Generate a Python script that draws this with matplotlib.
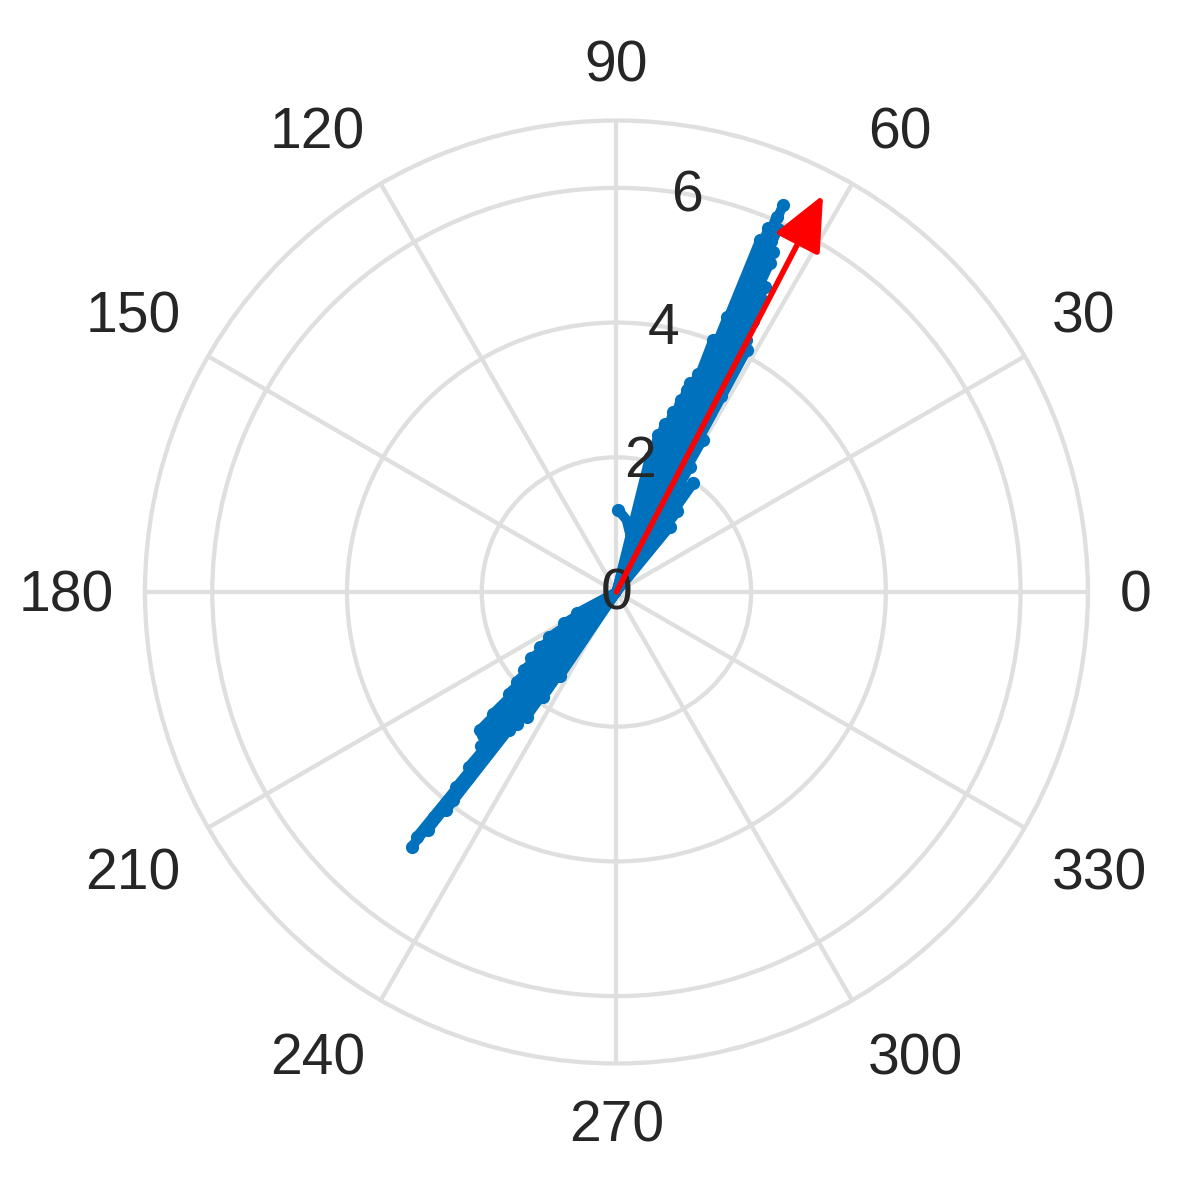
import matplotlib
matplotlib.use("Agg")
import matplotlib.pyplot as plt
import numpy as np

plt.rcParams["font.family"] = ["Liberation Sans", "DejaVu Sans"]

# sweeps of the trace through the origin: tip angle (deg) and magnitude
UPPER_ANGLE = [66.7, 66.9, 67.3, 67.8, 66.2, 65.0, 66.4, 67.5, 64.1, 65.6,
               66.8, 67.2, 63.2, 64.6, 65.9, 61.7, 62.8, 64.3, 66.3, 67.2,
               68.5, 69.5, 70.6, 70.8, 65.2, 63.4, 62.0, 62.5, 64.6, 67.0,
               72.5, 74.0, 75.1, 76.1, 73.0, 70.0, 59.6, 54.8, 57.5, 50.7,
               53.0, 60.5, 68.0, 69.0, 71.5, 66.0, 63.8, 65.3]
UPPER_MAG = [6.26, 6.06, 5.85, 5.64, 5.70, 5.39, 5.45, 5.25, 5.04, 5.10,
             4.95, 4.60, 4.50, 4.70, 4.55, 4.08, 4.20, 4.30, 4.15, 3.84,
             3.70, 3.45, 3.29, 3.17, 3.80, 3.50, 3.30, 3.00, 3.10, 3.20,
             2.80, 2.60, 2.41, 2.07, 2.30, 2.50, 2.16, 1.98, 1.85, 1.25,
             1.50, 2.60, 4.40, 4.00, 3.00, 5.90, 4.85, 5.55]
LOWER_ANGLE = [231.2, 230.8, 231.6, 231.0, 232.0, 231.9, 230.6, 231.3, 229.8, 230.9,
               228.6, 225.3, 227.0, 224.6, 226.0, 228.0, 229.5, 221.9, 223.3, 234.2,
               233.0, 235.0, 236.0, 218.0, 214.0, 208.2, 211.0, 232.0, 220.0, 216.0,
               225.5, 230.0]
LOWER_MAG = [4.85, 4.69, 4.50, 4.30, 4.10, 3.93, 3.75, 3.55, 3.40, 3.20,
             3.05, 2.88, 2.90, 2.57, 2.70, 2.65, 2.75, 1.99, 2.20, 2.28,
             2.45, 1.90, 1.50, 1.60, 1.20, 0.67, 0.90, 2.60, 1.80, 1.40,
             2.40, 2.95]
# the curled sweep near the origin
HOOK_ANGLE = [0.0, 60.0, 67.0, 71.5, 77.0, 82.0, 88.7]
HOOK_MAG = [0.0, 0.30, 0.52, 0.71, 0.89, 1.08, 1.22]

# mean direction arrow
MEAN_ANGLE = 62.5
MEAN_MAG = 6.645

THETA_TICKS = list(range(0, 360, 30))
R_TICKS = [0, 2, 4, 6]
R_MAX = 7

BLUE = "#0072BD"
GRID = "#DFDFDF"
TEXT = "#262626"
FS = 41
LW = 7.0
MS = 9.5


def main():
    fig = plt.figure(figsize=(11.9, 11.86), dpi=100)
    ax = fig.add_axes([0.1218, 0.1033, 0.7924, 0.7951], projection="polar")

    ax.set_ylim(0, R_MAX)
    ax.set_xticks(np.radians(THETA_TICKS))
    ax.set_xticklabels([])
    ax.set_yticks([r for r in R_TICKS if r > 0])
    ax.set_yticklabels([])
    ax.tick_params(length=0)
    ax.grid(True, color=GRID, lw=3.1)
    ax.spines["polar"].set_color(GRID)
    ax.spines["polar"].set_linewidth(3.1)

    for ang, mag in zip(UPPER_ANGLE + LOWER_ANGLE, UPPER_MAG + LOWER_MAG):
        t = np.radians(ang)
        ax.plot([t, t], [0, mag], color=BLUE, lw=LW, solid_capstyle="round", zorder=2)
    ax.plot(np.radians(UPPER_ANGLE + LOWER_ANGLE), UPPER_MAG + LOWER_MAG, "o",
            color=BLUE, ms=MS, mew=0, zorder=2)
    ax.plot(np.radians(HOOK_ANGLE), HOOK_MAG, color=BLUE, lw=LW,
            solid_capstyle="round", solid_joinstyle="round", zorder=2)
    ax.plot(np.radians(HOOK_ANGLE[-1]), HOOK_MAG[-1], "o", color=BLUE, ms=MS, mew=0, zorder=2)

    ax.annotate("", xy=(np.radians(MEAN_ANGLE), MEAN_MAG), xytext=(0, 0),
                arrowprops=dict(arrowstyle="-|>,head_length=0.4,head_width=0.18",
                                mutation_scale=84, color="red", lw=4.0,
                                shrinkA=0, shrinkB=0),
                zorder=4)

    # angle labels, aligned away from the circle like MATLAB does
    label_r = R_MAX * 503 / 471.5
    for deg in THETA_TICKS:
        c, s = np.cos(np.radians(deg)), np.sin(np.radians(deg))
        ha = "left" if c > 1e-6 else ("right" if c < -1e-6 else "center")
        va = "bottom" if s > 1e-6 else ("top" if s < -1e-6 else "center")
        ax.annotate(str(deg), xy=(np.radians(deg), label_r), xytext=(0, -3.2),
                    textcoords="offset points", ha=ha, va=va, fontsize=FS,
                    color=TEXT, annotation_clip=False)

    for r in R_TICKS:
        ax.annotate(str(r), xy=(np.radians(80), r), xytext=(0, -2),
                    textcoords="offset points", ha="center", va="center",
                    fontsize=FS, color=TEXT, annotation_clip=False, zorder=3)

    fig.savefig("out.png", dpi=100, facecolor="white")


if __name__ == "__main__":
    main()
